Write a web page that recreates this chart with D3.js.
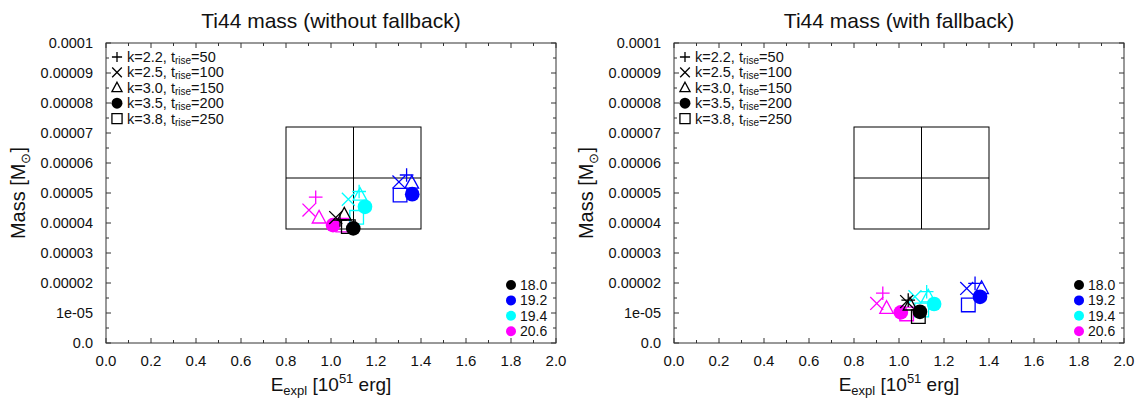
<!DOCTYPE html>
<html>
<head>
<meta charset="utf-8">
<script src="https://cdn.jsdelivr.net/npm/d3@7"></script>
<style>
  body { margin: 0; background: #fff; }
  text { font-family: "Liberation Sans", Arial, sans-serif; fill: #111; }
</style>
</head>
<body>
<div id="chart"></div>
<script>
// progenitor masses and their colours
const progenitors = ["18.0", "19.2", "19.4", "20.6"];
const progenitorColors = ["#000000", "#0000ff", "#00ffff", "#ff00ff"];

// models: k and t_rise, one marker per model
const kValues = ["2.2", "2.5", "3.0", "3.5", "3.8"];
const tRise = [50, 100, 150, 200, 250];
const markerTypes = ["plus", "cross", "triangle", "circle", "square"];

// without fallback: explosion energy [1e51 erg] and Ti44 mass [1e-5 Msun]
// rows = progenitors, columns = models
const energyNoFb = [
  [1.04, 1.021, 1.059, 1.099, 1.077],
  [1.336, 1.302, 1.359, 1.361, 1.307],
  [1.125, 1.077, 1.129, 1.151, 1.114],
  [0.932, 0.902, 0.947, 1.009, 1.052]
];
const massNoFb = [
  [4.1, 4.18, 4.27, 3.82, 3.88],
  [5.6, 5.37, 5.33, 4.96, 4.93],
  [5.05, 4.79, 4.93, 4.54, 4.19],
  [4.86, 4.43, 4.17, 3.93, 3.93]
];

// with fallback
const energyFb = [
  [1.041, 1.034, 1.049, 1.093, 1.086],
  [1.338, 1.301, 1.367, 1.36, 1.308],
  [1.123, 1.071, 1.13, 1.156, 1.101],
  [0.928, 0.901, 0.945, 1.008, 1.034]
];
const massFb = [
  [1.43, 1.38, 1.27, 1.04, 0.88],
  [1.99, 1.82, 1.82, 1.54, 1.27],
  [1.71, 1.54, 1.54, 1.3, 1.1],
  [1.66, 1.32, 1.16, 1.02, 0.97]
];

// observational box: energy range, mass range, centre
const boxEnergy = [0.8, 1.1, 1.4];
const boxMass = [3.8e-5, 5.5e-5, 7.2e-5];

const yTicks = [0, 1e-5, 2e-5, 3e-5, 4e-5, 5e-5, 6e-5, 7e-5, 8e-5, 9e-5, 1e-4];
const yTickLabels = ["0.0", "1e-05", "0.00002", "0.00003", "0.00004", "0.00005",
  "0.00006", "0.00007", "0.00008", "0.00009", "0.0001"];
const xTicks = [0, 0.2, 0.4, 0.6, 0.8, 1.0, 1.2, 1.4, 1.6, 1.8, 2.0];

const svg = d3.select("#chart").append("svg")
  .attr("width", 1139)
  .attr("height", 400);

const panels = [
  { title: "Ti44 mass (without fallback)", left: 106, energy: energyNoFb, mass: massNoFb },
  { title: "Ti44 mass (with fallback)", left: 674, energy: energyFb, mass: massFb }
];

const plotW = 450, plotTop = 43, plotBottom = 343;

panels.forEach(p => drawPanel(p));

function drawPanel(p) {
  const x = d3.scaleLinear().domain([0, 2]).range([p.left, p.left + plotW]);
  const y = d3.scaleLinear().domain([0, 1e-4]).range([plotBottom, plotTop]);
  const g = svg.append("g");

  // frame
  g.append("rect")
    .attr("x", x(0)).attr("y", y(1e-4))
    .attr("width", plotW).attr("height", plotBottom - plotTop)
    .attr("fill", "none").attr("stroke", "#333").attr("stroke-width", 1);

  drawTicks(g, x, y);

  // observation box with cross
  const bx = boxEnergy, bm = boxMass;
  const boxG = g.append("g").attr("stroke", "#000").attr("stroke-width", 1).attr("fill", "none");
  boxG.append("rect")
    .attr("x", x(bx[0])).attr("y", y(bm[2]))
    .attr("width", x(bx[2]) - x(bx[0])).attr("height", y(bm[0]) - y(bm[2]));
  boxG.append("line").attr("x1", x(bx[1])).attr("x2", x(bx[1])).attr("y1", y(bm[0])).attr("y2", y(bm[2]));
  boxG.append("line").attr("x1", x(bx[0])).attr("x2", x(bx[2])).attr("y1", y(bm[1])).attr("y2", y(bm[1]));

  // data points: draw heavier progenitors first so 18.0 ends on top
  const drawOrder = [4, 0, 1, 2, 3];
  for (let pi = progenitors.length - 1; pi >= 0; pi--) {
    drawOrder.forEach(mi => {
      drawMarker(g, markerTypes[mi], x(p.energy[pi][mi]), y(p.mass[pi][mi] * 1e-5),
        progenitorColors[pi], 1.05);
    });
  }

  // title
  svg.append("text")
    .attr("x", p.left + plotW / 2).attr("y", 28)
    .attr("text-anchor", "middle").attr("font-size", 21)
    .text(p.title);

  // x label
  const xl = svg.append("text")
    .attr("x", p.left + plotW / 2).attr("y", 391)
    .attr("text-anchor", "middle").attr("font-size", 19);
  xl.append("tspan").text("E");
  xl.append("tspan").attr("font-size", 13).attr("dy", 4).text("expl");
  xl.append("tspan").attr("dy", -4).text(" [10");
  xl.append("tspan").attr("font-size", 13).attr("dy", -8).text("51");
  xl.append("tspan").attr("dy", 8).text(" erg]");

  // y label
  const yl = svg.append("text")
    .attr("transform", `translate(${p.left - 81},${(plotTop + plotBottom) / 2}) rotate(-90)`)
    .attr("text-anchor", "middle").attr("font-size", 20);
  yl.append("tspan").text("Mass [M");
  yl.append("tspan").attr("font-size", 13).attr("dy", 5).text("\u2299");
  yl.append("tspan").attr("dy", -5).text("]");

  // model legend (top left)
  markerTypes.forEach((m, i) => {
    const ly = 57 + i * 15.4;
    drawMarker(g, m, p.left + 11, ly, "#000", 0.78);
    const t = g.append("text")
      .attr("x", p.left + 21).attr("y", ly + 5)
      .attr("font-size", 14.5);
    t.append("tspan").text(`k=${kValues[i]}, t`);
    t.append("tspan").attr("font-size", 10).attr("dy", 2).text("rise");
    t.append("tspan").attr("dy", -2).text(`=${tRise[i]}`);
  });

  // progenitor legend (bottom right)
  progenitors.forEach((name, i) => {
    const ly = 285 + i * 15.4;
    g.append("circle")
      .attr("cx", p.left + plotW - 45).attr("cy", ly).attr("r", 5)
      .attr("fill", progenitorColors[i]);
    g.append("text")
      .attr("x", p.left + plotW - 36).attr("y", ly + 5)
      .attr("font-size", 14)
      .text(name);
  });
}

function drawTicks(g, x, y) {
  const tg = g.append("g").attr("stroke", "#333").attr("stroke-width", 1);
  const minorX = d3.range(0.1, 2, 0.2);
  const minorY = d3.range(0.5e-5, 1e-4, 1e-5);

  xTicks.forEach(v => {
    tg.append("line").attr("x1", x(v)).attr("x2", x(v)).attr("y1", plotBottom).attr("y2", plotBottom - 5);
    tg.append("line").attr("x1", x(v)).attr("x2", x(v)).attr("y1", plotTop).attr("y2", plotTop + 5);
  });
  minorX.forEach(v => {
    tg.append("line").attr("x1", x(v)).attr("x2", x(v)).attr("y1", plotBottom).attr("y2", plotBottom - 3);
    tg.append("line").attr("x1", x(v)).attr("x2", x(v)).attr("y1", plotTop).attr("y2", plotTop + 3);
  });
  const x0 = x(0), x1 = x(2);
  yTicks.forEach(v => {
    tg.append("line").attr("x1", x0).attr("x2", x0 + 5).attr("y1", y(v)).attr("y2", y(v));
    tg.append("line").attr("x1", x1).attr("x2", x1 - 5).attr("y1", y(v)).attr("y2", y(v));
  });
  minorY.forEach(v => {
    tg.append("line").attr("x1", x0).attr("x2", x0 + 3).attr("y1", y(v)).attr("y2", y(v));
    tg.append("line").attr("x1", x1).attr("x2", x1 - 3).attr("y1", y(v)).attr("y2", y(v));
  });

  xTicks.forEach(v => {
    g.append("text")
      .attr("x", x(v)).attr("y", plotBottom + 23)
      .attr("text-anchor", "middle").attr("font-size", 15)
      .text(v.toFixed(1));
  });
  yTicks.forEach((v, i) => {
    g.append("text")
      .attr("x", x0 - 13).attr("y", y(v) + 5)
      .attr("text-anchor", "end").attr("font-size", 14.5)
      .text(yTickLabels[i]);
  });
}

function drawMarker(g, type, cx, cy, color, scale) {
  const s = 6.5 * scale;
  if (type === "circle") {
    g.append("circle").attr("cx", cx).attr("cy", cy).attr("r", 7 * scale).attr("fill", color);
    return;
  }
  let d;
  if (type === "plus") {
    d = `M${cx - s},${cy}H${cx + s}M${cx},${cy - s}V${cy + s}`;
  } else if (type === "cross") {
    const c = s * 0.95;
    d = `M${cx - c},${cy - c}L${cx + c},${cy + c}M${cx - c},${cy + c}L${cx + c},${cy - c}`;
  } else if (type === "triangle") {
    d = `M${cx},${cy - s * 1.1}L${cx + s},${cy + s * 0.75}L${cx - s},${cy + s * 0.75}Z`;
  } else {
    d = `M${cx - s},${cy - s}H${cx + s}V${cy + s}H${cx - s}Z`;
  }
  g.append("path").attr("d", d)
    .attr("fill", "none").attr("stroke", color).attr("stroke-width", 1.3);
}
</script>
</body>
</html>
